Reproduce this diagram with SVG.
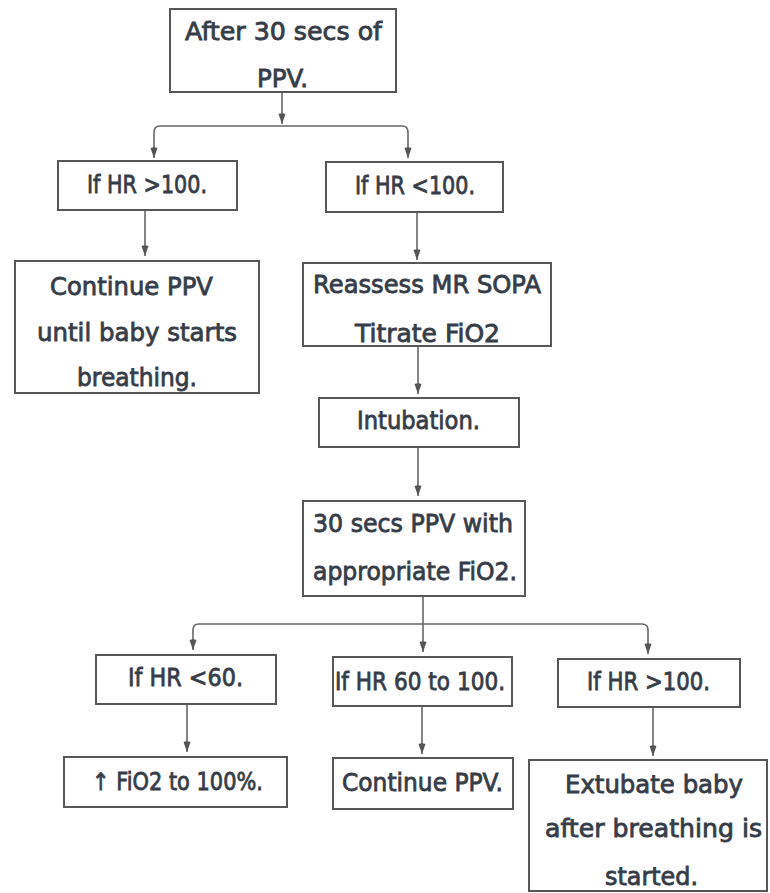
<svg xmlns="http://www.w3.org/2000/svg" width="770" height="893" viewBox="0 0 770 893">
<style>
.box{fill:#ffffff;stroke:#575757;stroke-width:2}
.t{font-family:"DejaVu Sans","Liberation Sans",sans-serif;font-size:24px;fill:#363d48;stroke:#363d48;stroke-width:0.8;text-anchor:middle}
.c{fill:none;stroke:#666666;stroke-width:1.6}
</style>
<defs>
<marker id="ah" viewBox="-2 -5 13 10" refX="10" refY="0" markerWidth="13" markerHeight="10" markerUnits="userSpaceOnUse" orient="auto">
<path d="M0,-3.5 L10,0 L0,3.5 Q-1.5,0 0,-3.5 z" fill="#555555"/>
</marker>
</defs>
<rect width="770" height="893" fill="#ffffff"/>
<g id="connectors">
<path class="c" d="M282,93 V124" marker-end="url(#ah)"/>
<path class="c" d="M282,126 H160 Q154,126 154,132 V158" marker-end="url(#ah)"/>
<path class="c" d="M282,126 H402 Q408,126 408,132 V158" marker-end="url(#ah)"/>
<path class="c" d="M145,210 V256" marker-end="url(#ah)"/>
<path class="c" d="M417,212 V260" marker-end="url(#ah)"/>
<path class="c" d="M418,346 V394" marker-end="url(#ah)"/>
<path class="c" d="M418,447 V496" marker-end="url(#ah)"/>
<path class="c" d="M423,596 V652" marker-end="url(#ah)"/>
<path class="c" d="M423,624 H199 Q193,624 193,630 V650" marker-end="url(#ah)"/>
<path class="c" d="M423,624 H642 Q648,624 648,630 V654" marker-end="url(#ah)"/>
<path class="c" d="M187,704 V752" marker-end="url(#ah)"/>
<path class="c" d="M422,706 V754" marker-end="url(#ah)"/>
<path class="c" d="M653,707 V756" marker-end="url(#ah)"/>
</g>
<g id="n-after30">
<rect class="box" x="170" y="9" width="226" height="83"/>
<text class="t" x="283.5" y="40" textLength="197" lengthAdjust="spacingAndGlyphs">After 30 secs of</text>
<text class="t" x="282.5" y="87" textLength="51" lengthAdjust="spacingAndGlyphs">PPV.</text>
</g>
<g id="n-hr-gt100-a">
<rect class="box" x="58" y="161" width="179" height="49"/>
<text class="t" x="147" y="193" textLength="120" lengthAdjust="spacingAndGlyphs">If HR &gt;100.</text>
</g>
<g id="n-hr-lt100">
<rect class="box" x="326" y="162" width="177" height="50"/>
<text class="t" x="415" y="194" textLength="120" lengthAdjust="spacingAndGlyphs">If HR &lt;100.</text>
</g>
<g id="n-continue-a">
<rect class="box" x="15" y="261" width="244" height="132"/>
<text class="t" x="131.5" y="295" textLength="163" lengthAdjust="spacingAndGlyphs">Continue PPV</text>
<text class="t" x="137" y="341" textLength="200" lengthAdjust="spacingAndGlyphs">until baby starts</text>
<text class="t" x="137" y="386" textLength="120" lengthAdjust="spacingAndGlyphs">breathing.</text>
</g>
<g id="n-reassess">
<rect class="box" x="303" y="263" width="248" height="83"/>
<text class="t" x="427" y="293" textLength="228" lengthAdjust="spacingAndGlyphs">Reassess MR SOPA</text>
<text class="t" x="427.5" y="342" textLength="145" lengthAdjust="spacingAndGlyphs">Titrate FiO2</text>
</g>
<g id="n-intubation">
<rect class="box" x="319" y="398" width="200" height="49"/>
<text class="t" x="418.5" y="429" textLength="123" lengthAdjust="spacingAndGlyphs">Intubation.</text>
</g>
<g id="n-30secs">
<rect class="box" x="303" y="501" width="222" height="95"/>
<text class="t" x="413" y="532" textLength="200" lengthAdjust="spacingAndGlyphs">30 secs PPV with</text>
<text class="t" x="415" y="580" textLength="204" lengthAdjust="spacingAndGlyphs">appropriate FiO2.</text>
</g>
<g id="n-hr-lt60">
<rect class="box" x="96" y="655" width="180" height="49"/>
<text class="t" x="185.5" y="686" textLength="115" lengthAdjust="spacingAndGlyphs">If HR &lt;60.</text>
</g>
<g id="n-hr-60-100">
<rect class="box" x="333" y="657" width="179" height="49"/>
<text class="t" x="420" y="690" textLength="170" lengthAdjust="spacingAndGlyphs">If HR 60 to 100.</text>
</g>
<g id="n-hr-gt100-b">
<rect class="box" x="558" y="659" width="182" height="48"/>
<text class="t" x="648.5" y="690" textLength="123" lengthAdjust="spacingAndGlyphs">If HR &gt;100.</text>
</g>
<g id="n-fio2">
<rect class="box" x="64" y="757" width="223" height="50"/>
<text class="t" x="177.5" y="790" textLength="171" lengthAdjust="spacingAndGlyphs">↑ FiO2 to 100%.</text>
</g>
<g id="n-continue-b">
<rect class="box" x="333" y="758" width="180" height="51"/>
<text class="t" x="422.5" y="791" textLength="161" lengthAdjust="spacingAndGlyphs">Continue PPV.</text>
</g>
<g id="n-extubate">
<rect class="box" x="529" y="760" width="238" height="131"/>
<text class="t" x="654" y="793" textLength="178" lengthAdjust="spacingAndGlyphs">Extubate baby</text>
<text class="t" x="653.5" y="837" textLength="217" lengthAdjust="spacingAndGlyphs">after breathing is</text>
<text class="t" x="651.5" y="885" textLength="93" lengthAdjust="spacingAndGlyphs">started.</text>
</g>
</svg>
